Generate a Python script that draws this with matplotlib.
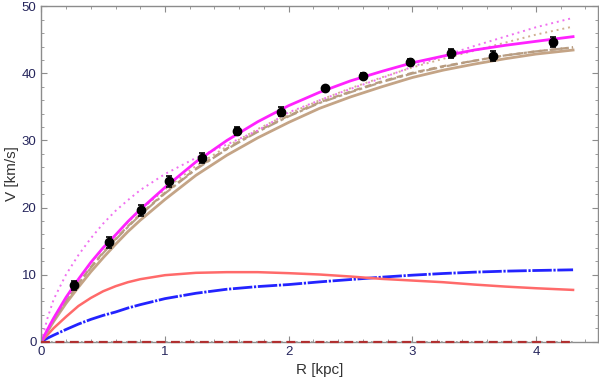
# Rotation curve: data points with model curves (disk, gas, halo fits)
import numpy as np
import matplotlib.pyplot as plt
from matplotlib.ticker import MultipleLocator

plt.rcParams['font.family'] = ['Liberation Sans', 'DejaVu Sans']

# observed points
r_obs = [0.265, 0.546, 0.807, 1.03, 1.30, 1.58, 1.94, 2.29, 2.60, 2.98, 3.31, 3.65, 4.14]
v_obs = [8.4, 14.8, 19.6, 23.9, 27.4, 31.4, 34.3, 37.9, 39.6, 41.7, 43.0, 42.6, 44.7]
v_err = [0.7, 0.8, 0.8, 0.8, 0.7, 0.6, 0.7, 0.3, 0.4, 0.4, 0.7, 0.8, 0.8]

r_mod = [0, 0.05, 0.1, 0.2, 0.3, 0.4, 0.5, 0.6, 0.7, 0.8, 1.0, 1.25, 1.5, 1.75,
         2.0, 2.25, 2.5, 2.75, 3.0, 3.25, 3.5, 3.75, 4.0, 4.3]

v_total = [0, 1.8, 3.5, 6.6, 9.3, 11.8, 14.0, 15.9, 17.9, 19.7, 23.0, 26.8, 30.0, 32.8,
           35.2, 37.2, 38.9, 40.3, 41.6, 42.6, 43.5, 44.2, 44.8, 45.5]
v_total2 = [0, 3.5, 6.3, 10.0, 12.9, 15.4, 17.6, 19.5, 21.1, 22.6, 25.0, 27.4, 29.4, 31.5,
            34.2, 36.0, 37.7, 39.3, 41.0, 42.6, 44.1, 45.5, 46.9, 48.3]
v_tan_dot = [0, 1.8, 3.5, 6.5, 9.2, 11.7, 13.9, 15.9, 17.8, 19.6, 22.7, 26.2, 29.1, 31.7,
             34.0, 36.0, 37.8, 39.4, 40.9, 42.2, 43.4, 44.6, 45.8, 47.0]
v_tan_dash = [0, 1.6, 3.2, 6.1, 8.7, 11.1, 13.3, 15.3, 17.2, 19.0, 22.2, 25.8, 28.8, 31.4,
              33.7, 35.7, 37.3, 38.8, 40.1, 41.1, 41.9, 42.7, 43.3, 43.9]
v_tan_dashdot = [0, 1.6, 3.1, 6.0, 8.6, 11.0, 13.2, 15.2, 17.1, 18.9, 22.1, 25.7, 28.7, 31.3,
                 33.6, 35.6, 37.2, 38.7, 40.0, 41.0, 41.9, 42.7, 43.3, 43.9]
v_tan_solid = [0, 1.5, 3.0, 5.7, 8.1, 10.4, 12.5, 14.5, 16.4, 18.1, 21.2, 24.8, 27.8, 30.4,
               32.7, 34.8, 36.5, 38.0, 39.4, 40.5, 41.4, 42.2, 42.9, 43.5]
v_disk = [0, 1.0, 2.0, 3.7, 5.3, 6.5, 7.5, 8.25, 8.85, 9.3, 9.9, 10.25, 10.35, 10.35,
          10.2, 10.0, 9.7, 9.35, 9.1, 8.85, 8.5, 8.2, 7.95, 7.7]
v_gas = [0, 0.5, 0.95, 1.8, 2.6, 3.3, 3.9, 4.4, 5.0, 5.5, 6.4, 7.2, 7.8, 8.2,
         8.5, 8.9, 9.25, 9.6, 9.9, 10.15, 10.35, 10.5, 10.6, 10.7]
v_zero = [0] * len(r_mod)

fig = plt.figure(figsize=(5.99, 3.82), dpi=100)
ax = fig.add_axes([0.069, 0.106, 0.929, 0.877])

tan = '#c4a486'
ax.plot(r_mod, v_zero, color='#999999', lw=1.2, dashes=(1, 2), clip_on=False, zorder=4)
ax.plot(r_mod, v_zero, color='#b03030', lw=1.6, dashes=(4, 2.5), clip_on=False, zorder=4)
ax.plot(r_mod, v_gas, color='#2323ff', lw=2, dashes=(7, 0.6, 0.8, 0.6))
ax.plot(r_mod, v_disk, color='#ff6a6a', lw=1.8)
ax.plot(r_mod, v_tan_solid, color=tan, lw=2)
ax.plot(r_mod, v_tan_dashdot, color='#b8a088', lw=1.6, dashes=(5, 1.5, 1.5, 1.5))
ax.plot(r_mod, v_tan_dash, color='#b89c80', lw=1.6, dashes=(3, 2))
ax.plot(r_mod, v_tan_dot, color='#d0b090', lw=1.4, dashes=(1, 2))
ax.plot(r_mod, v_total2, color='#f070f0', lw=1.4, dashes=(1, 2))
ax.plot(r_mod, v_total, color='#ff22ff', lw=2)

ax.errorbar(r_obs, v_obs, yerr=v_err, fmt='o', color='black', ms=6,
            capsize=2.5, elinewidth=1.2, capthick=1.2, zorder=5)

ax.set_xlim(0, 4.5)
ax.set_ylim(0, 50)
ax.xaxis.set_major_locator(MultipleLocator(1))
ax.xaxis.set_minor_locator(MultipleLocator(0.2))
ax.yaxis.set_major_locator(MultipleLocator(10))
ax.yaxis.set_minor_locator(MultipleLocator(2))

for s in ax.spines.values():
    s.set_color('#8c8c8c')
    s.set_linewidth(1)
ax.tick_params(which='both', direction='in', top=True, right=True,
               color='#8c8c8c', labelcolor='#25255c', labelsize=9.5)
ax.tick_params(which='major', length=4)
ax.tick_params(which='minor', length=2)

ax.set_xlabel('R [kpc]', fontsize=11, color='#333333', labelpad=3)
ax.set_ylabel('V [km/s]', fontsize=11, color='#333333', labelpad=2)

fig.savefig('out.png', dpi=100)
